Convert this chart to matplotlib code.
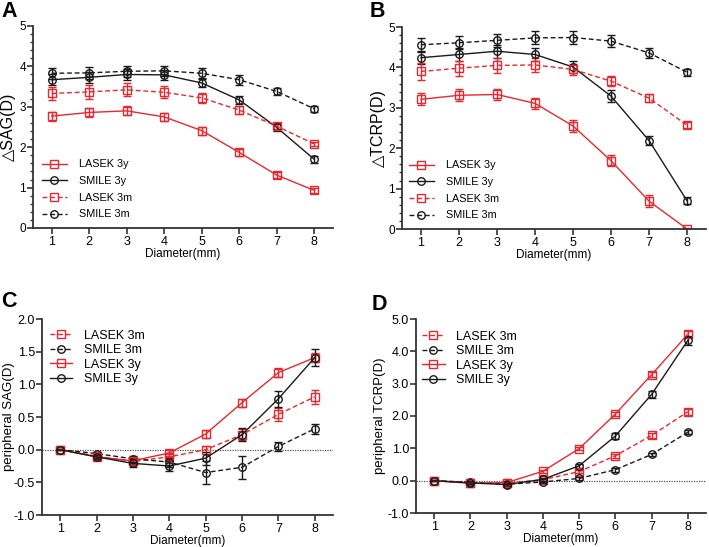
import matplotlib
matplotlib.use("Agg")
import matplotlib.pyplot as plt
from matplotlib.ticker import MultipleLocator, FormatStrFormatter

plt.rcParams['font.family'] = ['Liberation Sans', 'DejaVu Sans']

diam = [1, 2, 3, 4, 5, 6, 7, 8]

# Panel A: delta SAG
A_lasek3y = [2.77, 2.86, 2.90, 2.75, 2.41, 1.87, 1.31, 0.93]
A_lasek3y_err = [0.11, 0.11, 0.11, 0.10, 0.10, 0.09, 0.07, 0.06]
A_smile3y = [3.67, 3.73, 3.80, 3.79, 3.59, 3.17, 2.49, 1.70]
A_smile3y_err = [0.13, 0.13, 0.14, 0.13, 0.11, 0.10, 0.09, 0.08]
A_lasek3m = [3.33, 3.37, 3.42, 3.36, 3.22, 2.92, 2.52, 2.08]
A_lasek3m_err = [0.17, 0.17, 0.16, 0.15, 0.12, 0.11, 0.08, 0.06]
A_smile3m = [3.83, 3.84, 3.88, 3.89, 3.83, 3.67, 3.38, 2.95]
A_smile3m_err = [0.14, 0.14, 0.14, 0.13, 0.12, 0.12, 0.09, 0.07]

# Panel B: delta TCRP
B_lasek3y = [3.21, 3.31, 3.33, 3.11, 2.55, 1.69, 0.69, 0.00]
B_lasek3y_err = [0.15, 0.15, 0.14, 0.14, 0.14, 0.14, 0.14, 0.02]
B_smile3y = [4.24, 4.32, 4.40, 4.32, 4.01, 3.29, 2.19, 0.70]
B_smile3y_err = [0.16, 0.16, 0.16, 0.15, 0.15, 0.14, 0.10, 0.08]
B_lasek3m = [3.90, 3.98, 4.05, 4.06, 3.95, 3.66, 3.24, 2.57]
B_lasek3m_err = [0.20, 0.19, 0.18, 0.17, 0.13, 0.13, 0.10, 0.07]
B_smile3m = [4.56, 4.61, 4.67, 4.73, 4.74, 4.65, 4.36, 3.88]
B_smile3m_err = [0.17, 0.16, 0.16, 0.16, 0.15, 0.14, 0.12, 0.09]

# Panel C: peripheral SAG
C_lasek3m = [0.0, -0.10, -0.18, -0.11, 0.00, 0.23, 0.54, 0.81]
C_lasek3m_err = [0.01, 0.03, 0.04, 0.05, 0.06, 0.08, 0.10, 0.11]
C_smile3m = [0.0, -0.06, -0.14, -0.19, -0.35, -0.27, 0.05, 0.32]
C_smile3m_err = [0.01, 0.03, 0.05, 0.07, 0.18, 0.18, 0.07, 0.08]
C_lasek3y = [0.0, -0.11, -0.17, -0.05, 0.24, 0.72, 1.18, 1.41]
C_lasek3y_err = [0.01, 0.03, 0.04, 0.05, 0.06, 0.06, 0.07, 0.07]
C_smile3y = [0.0, -0.11, -0.21, -0.25, -0.13, 0.23, 0.78, 1.41]
C_smile3y_err = [0.01, 0.03, 0.06, 0.07, 0.10, 0.10, 0.12, 0.13]

# Panel D: peripheral TCRP
D_lasek3m = [0.0, -0.07, -0.08, 0.03, 0.28, 0.77, 1.40, 2.13]
D_lasek3m_err = [0.01, 0.03, 0.04, 0.04, 0.05, 0.06, 0.07, 0.10]
D_smile3m = [0.0, -0.05, -0.11, -0.04, 0.07, 0.34, 0.81, 1.50]
D_smile3m_err = [0.01, 0.03, 0.04, 0.04, 0.05, 0.06, 0.06, 0.07]
D_lasek3y = [0.0, -0.08, -0.06, 0.29, 0.99, 2.06, 3.28, 4.53]
D_lasek3y_err = [0.01, 0.03, 0.04, 0.05, 0.05, 0.06, 0.07, 0.10]
D_smile3y = [0.0, -0.07, -0.12, 0.04, 0.46, 1.38, 2.67, 4.34]
D_smile3y_err = [0.01, 0.03, 0.04, 0.05, 0.07, 0.09, 0.11, 0.13]

RED = '#e8282e'
BLK = '#1a1a1a'
AXC = '#333333'

W, H = 709, 547
fig = plt.figure(figsize=(W / 100, H / 100), dpi=100)


def pos(l, t, r, b):
    return [l / W, 1 - b / H, (r - l) / W, (b - t) / H]


def series(ax, y, e, color, marker, dashed, label):
    ls = (0, (3.5, 2)) if dashed else '-'
    ms = 5.6 if marker == 's' else 5.4
    ax.errorbar(diam, y, yerr=e, color=color, ls=ls, lw=1.0, marker=marker,
                ms=ms, mfc='none', mec=color, mew=1.0, capsize=3.0,
                elinewidth=1.0, capthick=1.0, label=label)


def style(ax, ylim, major, minor, fmt, ylabel, xts, yts, yls, ylx):
    ax.set_xlim(0.5, 8.5)
    ax.set_ylim(*ylim)
    ax.set_xticks(diam)
    ax.yaxis.set_major_locator(MultipleLocator(major))
    if minor:
        ax.yaxis.set_minor_locator(MultipleLocator(minor))
    ax.yaxis.set_major_formatter(FormatStrFormatter(fmt))
    for s in ['top', 'right']:
        ax.spines[s].set_visible(False)
    for s in ['left', 'bottom']:
        ax.spines[s].set_linewidth(1.3)
        ax.spines[s].set_color(AXC)
    ax.tick_params(axis='both', which='major', direction='out', length=4,
                   width=1.2, color=AXC, pad=2)
    ax.tick_params(axis='x', labelsize=xts)
    ax.tick_params(axis='y', labelsize=yts, pad=1)
    ax.tick_params(axis='y', which='minor', direction='out', length=2.5,
                   width=1.0, color=AXC)
    ax.set_xlabel('Diameter(mm)', fontsize=8.5, labelpad=0)
    ax.set_ylabel(ylabel, fontsize=yls, va='center')
    ax.yaxis.set_label_coords(ylx, 0.5)


# Panel A
axA = fig.add_axes(pos(33, 26, 333, 228))
series(axA, A_lasek3y, A_lasek3y_err, RED, 's', False, 'LASEK 3y')
series(axA, A_smile3y, A_smile3y_err, BLK, 'o', False, 'SMILE 3y')
series(axA, A_lasek3m, A_lasek3m_err, RED, 's', True, 'LASEK 3m')
series(axA, A_smile3m, A_smile3m_err, BLK, 'o', True, 'SMILE 3m')
style(axA, (0, 5), 1, 0.2, '%d', '\u25b3SAG(D)', 9, 8.5, 11.5, -0.082)

# Panel B
axB = fig.add_axes(pos(402, 27, 706, 229))
series(axB, B_lasek3y, B_lasek3y_err, RED, 's', False, 'LASEK 3y')
series(axB, B_smile3y, B_smile3y_err, BLK, 'o', False, 'SMILE 3y')
series(axB, B_lasek3m, B_lasek3m_err, RED, 's', True, 'LASEK 3m')
series(axB, B_smile3m, B_smile3m_err, BLK, 'o', True, 'SMILE 3m')
style(axB, (0, 5), 1, 0.2, '%d', '\u25b3TCRP(D)', 9, 8.5, 11.5, -0.076)

# Panel C
axC = fig.add_axes(pos(42, 319, 333, 515))
axC.axhline(0, color='#555555', lw=0.9, ls=(0, (1, 1)), zorder=1)
series(axC, C_lasek3m, C_lasek3m_err, RED, 's', True, 'LASEK 3m')
series(axC, C_smile3m, C_smile3m_err, BLK, 'o', True, 'SMILE 3m')
series(axC, C_lasek3y, C_lasek3y_err, RED, 's', False, 'LASEK 3y')
series(axC, C_smile3y, C_smile3y_err, BLK, 'o', False, 'SMILE 3y')
style(axC, (-1.0, 2.0), 0.5, None, '%.1f', 'peripheral SAG(D)', 9, 9, 9.5, -0.112)

# Panel D
axD = fig.add_axes(pos(416, 319, 706, 513))
axD.axhline(0, color='#555555', lw=0.9, ls=(0, (1, 1)), zorder=1)
series(axD, D_lasek3m, D_lasek3m_err, RED, 's', True, 'LASEK 3m')
series(axD, D_smile3m, D_smile3m_err, BLK, 'o', True, 'SMILE 3m')
series(axD, D_lasek3y, D_lasek3y_err, RED, 's', False, 'LASEK 3y')
series(axD, D_smile3y, D_smile3y_err, BLK, 'o', False, 'SMILE 3y')
style(axD, (-1.0, 5.0), 1.0, None, '%.1f', 'peripheral TCRP(D)', 9, 9, 9.5, -0.124)


def legend(ax, anchor, fs, hl, htp, spacing):
    h, l = ax.get_legend_handles_labels()
    h = [x[0] for x in h]
    ax.legend(h, l, loc='upper left', bbox_to_anchor=anchor, frameon=False,
              fontsize=fs, handlelength=hl, handletextpad=htp,
              labelspacing=spacing, borderaxespad=0, borderpad=0)


legend(axA, (0.03, 0.34), 7.8, 2.3, 1.1, 0.62)
legend(axB, (0.023, 0.34), 7.8, 2.3, 1.1, 0.62)
legend(axC, (0.027, 0.945), 9, 1.8, 0.9, 0.2)
legend(axD, (0.021, 0.94), 9, 1.8, 0.9, 0.2)

for txt, x, y in [('A', 1, 1), ('B', 370, 1), ('C', 1, 291), ('D', 372, 294)]:
    fig.text(x / W, 1 - y / H, txt, fontsize=15.5, fontweight='bold',
             va='top', ha='left')

fig.savefig('out.png', dpi=100)
